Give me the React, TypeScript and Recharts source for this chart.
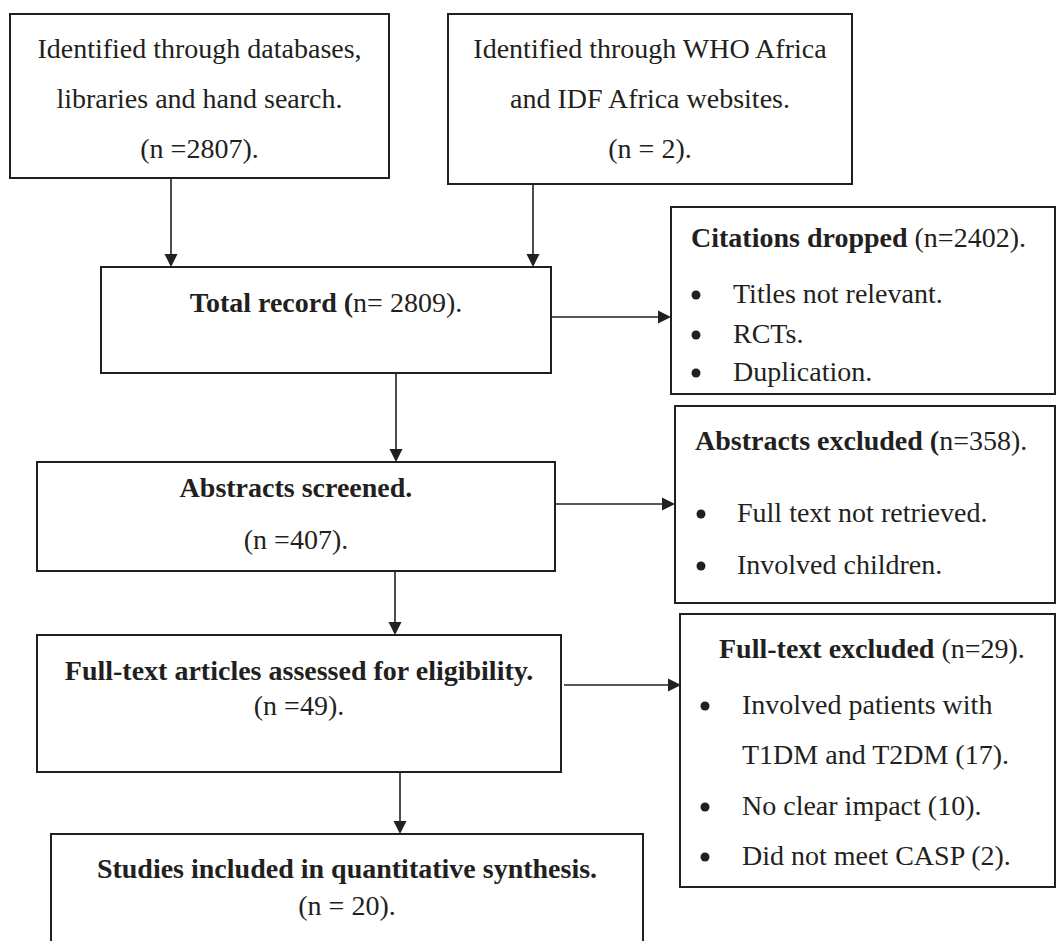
import { ComposedChart, XAxis, YAxis, ReferenceArea, ReferenceLine, Scatter } from 'recharts';

const INK = '#231f20';
const FONT = '"Liberation Serif", "Times New Roman", serif';

// flow boxes, in page pixels (x grows right, y grows down)
const boxes = [
  { id: 'databases', x1: 10, y1: 14, x2: 389, y2: 178 },
  { id: 'websites', x1: 448, y1: 14, x2: 852, y2: 184 },
  { id: 'total', x1: 101, y1: 267, x2: 551, y2: 373 },
  { id: 'dropped', x1: 671, y1: 207, x2: 1055, y2: 394 },
  { id: 'screened', x1: 37, y1: 462, x2: 555, y2: 571 },
  { id: 'absExcluded', x1: 675, y1: 406, x2: 1055, y2: 603 },
  { id: 'fullText', x1: 37, y1: 635, x2: 561, y2: 772 },
  { id: 'ftExcluded', x1: 680, y1: 614, x2: 1055, y2: 887 },
  { id: 'included', x1: 51, y1: 834, x2: 643, y2: 980 },
];

const arrows = [
  { x1: 171, y1: 178, x2: 171, y2: 267 },
  { x1: 533, y1: 184, x2: 533, y2: 267 },
  { x1: 551, y1: 317, x2: 671, y2: 317 },
  { x1: 396, y1: 373, x2: 396, y2: 462 },
  { x1: 555, y1: 504, x2: 675, y2: 504 },
  { x1: 395, y1: 571, x2: 395, y2: 635 },
  { x1: 564, y1: 685, x2: 681, y2: 685 },
  { x1: 400, y1: 772, x2: 400, y2: 834 },
];

type Part = [string, boolean];

const centredLines: { x: number; y: number; parts: Part[] }[] = [
  { x: 199.5, y: 58, parts: [['Identified through databases,', false]] },
  { x: 199.5, y: 108, parts: [['libraries and hand search.', false]] },
  { x: 199.5, y: 158, parts: [['(n =2807).', false]] },
  { x: 650, y: 58, parts: [['Identified through WHO Africa', false]] },
  { x: 650, y: 108, parts: [['and IDF Africa websites.', false]] },
  { x: 650, y: 158, parts: [['(n = 2).', false]] },
  { x: 326, y: 312, parts: [['Total record (', true], ['n= 2809).', false]] },
  { x: 296, y: 497, parts: [['Abstracts screened.', true]] },
  { x: 296, y: 549, parts: [['(n =407).', false]] },
  { x: 299, y: 680, parts: [['Full-text articles assessed for eligibility.', true]] },
  { x: 299, y: 715, parts: [['(n =49).', false]] },
  { x: 347, y: 878, parts: [['Studies included in quantitative synthesis.', true]] },
  { x: 347, y: 915, parts: [['(n = 20).', false]] },
];

const leftLines: { x: number; y: number; parts: Part[] }[] = [
  { x: 691, y: 247, parts: [['Citations dropped', true], [' (n=2402).', false]] },
  { x: 733, y: 303, parts: [['Titles not relevant.', false]] },
  { x: 733, y: 343, parts: [['RCTs.', false]] },
  { x: 733, y: 381, parts: [['Duplication.', false]] },
  { x: 695, y: 450, parts: [['Abstracts excluded (', true], ['n=358).', false]] },
  { x: 737, y: 522, parts: [['Full text not retrieved.', false]] },
  { x: 737, y: 574, parts: [['Involved children.', false]] },
  { x: 719, y: 658, parts: [['Full-text excluded', true], [' (n=29).', false]] },
  { x: 742, y: 714, parts: [['Involved patients with', false]] },
  { x: 742, y: 764, parts: [['T1DM and T2DM (17).', false]] },
  { x: 742, y: 815, parts: [['No clear impact (10).', false]] },
  { x: 742, y: 865, parts: [['Did not meet CASP (2).', false]] },
];

const bullets = [
  { x: 696, y: 295 },
  { x: 696, y: 335 },
  { x: 696, y: 373 },
  { x: 701, y: 514 },
  { x: 701, y: 566 },
  { x: 705, y: 706 },
  { x: 705, y: 807 },
  { x: 705, y: 857 },
];

const HEAD = 13;

// arrow heads sit on the end point of each arrow, pointing along it
const heads = arrows.map((a) => ({
  x: a.x2,
  y: a.y2,
  dir: a.x1 === a.x2 ? 'down' : 'right',
}));

function ArrowHead(props: any) {
  const { cx, cy, payload } = props;
  const h = HEAD;
  const w = 6.5;
  const pts =
    payload.dir === 'down'
      ? `${cx},${cy} ${cx - w},${cy - h} ${cx + w},${cy - h}`
      : `${cx},${cy} ${cx - h},${cy - w} ${cx - h},${cy + w}`;
  return <polygon points={pts} fill={INK} />;
}

function makeLine(anchor: 'middle' | 'start') {
  return function Line(props: any) {
    const { cx, cy, payload } = props;
    return (
      <text x={cx} y={cy} textAnchor={anchor} fontFamily={FONT} fontSize={28} fill={INK}>
        {payload.parts.map((p: Part, i: number) => (
          <tspan key={i} fontWeight={p[1] ? 'bold' : 'normal'}>
            {p[0]}
          </tspan>
        ))}
      </text>
    );
  };
}

function Bullet(props: any) {
  return <circle cx={props.cx} cy={props.cy} r={4.5} fill={INK} />;
}

export default function App() {
  return (
    <div style={{ position: 'absolute', left: 0, top: 0, background: '#fff' }}>
      <ComposedChart width={1056} height={941} margin={{ top: 0, right: 0, bottom: 0, left: 0 }}>
        <XAxis type="number" dataKey="x" domain={[0, 1056]} hide allowDataOverflow />
        <YAxis type="number" dataKey="y" domain={[0, 941]} reversed hide allowDataOverflow />
        {boxes.map((b) => (
          <ReferenceArea
            key={b.id}
            x1={b.x1}
            x2={b.x2}
            y1={b.y1}
            y2={b.y2}
            fill="#fff"
            fillOpacity={1}
            stroke={INK}
            strokeWidth={2}
            ifOverflow="visible"
          />
        ))}
        {arrows.map((a, i) => (
          <ReferenceLine
            key={i}
            segment={
              a.x1 === a.x2
                ? [{ x: a.x1, y: a.y1 }, { x: a.x2, y: a.y2 - HEAD + 1 }]
                : [{ x: a.x1, y: a.y1 }, { x: a.x2 - HEAD + 1, y: a.y2 }]
            }
            stroke={INK}
            strokeWidth={1.6}
            ifOverflow="visible"
          />
        ))}
        <Scatter data={heads} shape={ArrowHead} isAnimationActive={false} />
        <Scatter data={bullets} shape={Bullet} isAnimationActive={false} />
        <Scatter data={centredLines} shape={makeLine('middle')} isAnimationActive={false} />
        <Scatter data={leftLines} shape={makeLine('start')} isAnimationActive={false} />
      </ComposedChart>
    </div>
  );
}
